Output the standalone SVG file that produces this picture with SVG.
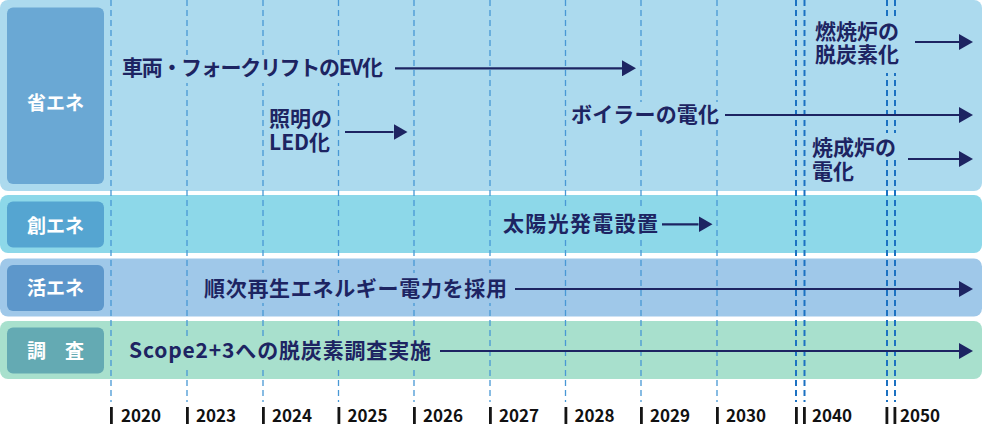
<svg xmlns="http://www.w3.org/2000/svg" width="983" height="426" viewBox="0 0 983 426">
<defs>
<style>
.lbl{font-family:"Noto Sans CJK JP","Noto Sans",sans-serif;font-weight:700;font-size:19px;fill:#ffffff;text-anchor:middle}
.t{font-family:"Noto Sans CJK JP","Noto Sans",sans-serif;font-weight:700;font-size:21px;fill:#1d2462}
.yr{font-family:"Noto Sans CJK JP","Noto Sans",sans-serif;font-weight:700;font-size:17px;fill:#111111}
.dash{stroke:#4898d5;stroke-width:1.3;stroke-dasharray:6 4;fill:none}
.dash2{stroke:#1c72c2;stroke-width:2;stroke-dasharray:6 4;fill:none}
.bar{fill:#151515}
.arr{stroke:#1d2462;stroke-width:2.2;fill:none;marker-end:url(#ah)}
.bg1{fill:#acdaee}.bg2{fill:#8dd8e9}.bg3{fill:#9fc8e9}.bg4{fill:#a8e0cd}
</style>
<marker id="ah" viewBox="0 -8 14 16" refX="0" refY="0" markerWidth="14" markerHeight="16" markerUnits="userSpaceOnUse" orient="auto">
<path d="M0,-8 L14,0 L0,8 z" fill="#1d2462"/>
</marker>
</defs>

<g id="lanes">
<rect id="lane-shoene" class="bg1" x="0" y="0" width="982" height="191" rx="8"/>
<rect id="lane-souene" class="bg2" x="0" y="195" width="982" height="58" rx="8"/>
<rect id="lane-katsuene" class="bg3" x="0" y="258.5" width="982" height="58" rx="8"/>
<rect id="lane-chousa" class="bg4" x="0" y="321" width="982" height="58" rx="8"/>
</g>

<g id="category-shoene">
<rect x="7" y="7.5" width="97" height="176.5" rx="6" fill="#6aa8d4"/>
<text class="lbl" x="55.5" y="110">省エネ</text>
</g>
<g id="category-souene">
<rect x="7" y="201.5" width="97" height="46" rx="6" fill="#55a5d1"/>
<text class="lbl" x="55.5" y="233">創エネ</text>
</g>
<g id="category-katsuene">
<rect x="7" y="265" width="97" height="46" rx="6" fill="#5d97cb"/>
<text class="lbl" x="55.5" y="295">活エネ</text>
</g>
<g id="category-chousa">
<rect x="7" y="327.5" width="97" height="46" rx="6" fill="#64aab3"/>
<text class="lbl" x="55.5" y="358">調　査</text>
</g>

<g id="gridlines">
<line class="dash" x1="111" y1="0" x2="111" y2="402"/>
<line class="dash" x1="187" y1="0" x2="187" y2="402"/>
<line class="dash" x1="263" y1="0" x2="263" y2="402"/>
<line class="dash" x1="338.5" y1="0" x2="338.5" y2="402"/>
<line class="dash" x1="414" y1="0" x2="414" y2="402"/>
<line class="dash" x1="490" y1="0" x2="490" y2="402"/>
<line class="dash" x1="565.5" y1="0" x2="565.5" y2="402"/>
<line class="dash" x1="641" y1="0" x2="641" y2="402"/>
<line class="dash" x1="717" y1="0" x2="717" y2="402"/>
<line class="dash2" x1="796" y1="0" x2="796" y2="402"/>
<line class="dash2" x1="804.5" y1="0" x2="804.5" y2="402"/>
<line class="dash2" x1="887" y1="0" x2="887" y2="402"/>
<line class="dash2" x1="895" y1="0" x2="895" y2="402"/>
</g>

<g id="axis">
<rect class="bar" x="110" y="407" width="2.8" height="17"/><text class="yr" x="121" y="422">2020</text>
<rect class="bar" x="186" y="407" width="2.8" height="17"/><text class="yr" x="196" y="422">2023</text>
<rect class="bar" x="262" y="407" width="2.8" height="17"/><text class="yr" x="272" y="422">2024</text>
<rect class="bar" x="337.5" y="407" width="2.8" height="17"/><text class="yr" x="347.5" y="422">2025</text>
<rect class="bar" x="413" y="407" width="2.8" height="17"/><text class="yr" x="423" y="422">2026</text>
<rect class="bar" x="489" y="407" width="2.8" height="17"/><text class="yr" x="499" y="422">2027</text>
<rect class="bar" x="564.5" y="407" width="2.8" height="17"/><text class="yr" x="574.5" y="422">2028</text>
<rect class="bar" x="640" y="407" width="2.8" height="17"/><text class="yr" x="650" y="422">2029</text>
<rect class="bar" x="716" y="407" width="2.8" height="17"/><text class="yr" x="726" y="422">2030</text>
<rect class="bar" x="795" y="407" width="2.8" height="17"/><rect class="bar" x="803" y="407" width="2.8" height="17"/><text class="yr" x="812" y="422">2040</text>
<rect class="bar" x="885.5" y="407" width="2.8" height="17"/><rect class="bar" x="893.5" y="407" width="2.8" height="17"/><text class="yr" x="900" y="422">2050</text>
</g>

<g id="item-ev">
<rect class="bg1" x="117" y="55" width="271" height="28"/>
<text class="t" x="122" y="75" textLength="261" lengthAdjust="spacing">車両・フォークリフトのEV化</text>
</g>
<g id="item-led">
<rect class="bg1" x="265" y="106" width="71" height="24"/>
<rect class="bg1" x="265" y="130" width="71" height="25"/>
<text class="t"><tspan x="269" y="126">照明の</tspan><tspan x="269" y="150">LED化</tspan></text>
</g>
<g id="item-boiler">
<rect class="bg1" x="567" y="102" width="156" height="28"/>
<text class="t" x="571" y="122" textLength="148" lengthAdjust="spacing">ボイラーの電化</text>
</g>
<g id="item-furnace">
<rect class="bg1" x="810" y="17" width="93" height="56"/>
<text class="t"><tspan x="815" y="39">燃焼炉の</tspan><tspan x="815" y="62">脱炭素化</tspan></text>
</g>
<g id="item-kiln">
<rect class="bg1" x="808" y="133" width="90" height="25"/>
<rect class="bg1" x="808" y="158" width="50" height="26"/>
<text class="t"><tspan x="812" y="155">焼成炉の</tspan><tspan x="812" y="179">電化</tspan></text>
</g>
<g id="item-solar">
<rect class="bg2" x="499" y="207" width="162" height="30"/>
<text class="t" x="503" y="231" textLength="155" lengthAdjust="spacing">太陽光発電設置</text>
</g>
<g id="item-renewable">
<rect class="bg3" x="200" y="273" width="311" height="30"/>
<text class="t" x="204" y="296" textLength="303" lengthAdjust="spacing">順次再生エネルギー電力を採用</text>
</g>
<g id="item-scope">
<rect class="bg4" x="125" y="336" width="310" height="30"/>
<text class="t" x="129" y="358" textLength="302" lengthAdjust="spacing">Scope2+3への脱炭素調査実施</text>
</g>

<g id="connectors">
<line class="arr" x1="395" y1="68.3" x2="622" y2="68.3"/>
<line class="arr" x1="345" y1="132" x2="393.5" y2="132"/>
<line class="arr" x1="725" y1="115" x2="959" y2="115"/>
<line class="arr" x1="915" y1="42" x2="959" y2="42"/>
<line class="arr" x1="908" y1="159" x2="959" y2="159"/>
<line class="arr" x1="662" y1="224.3" x2="698.5" y2="224.3"/>
<line class="arr" x1="515" y1="289" x2="959" y2="289"/>
<line class="arr" x1="440" y1="351" x2="959" y2="351"/>
</g>
</svg>
